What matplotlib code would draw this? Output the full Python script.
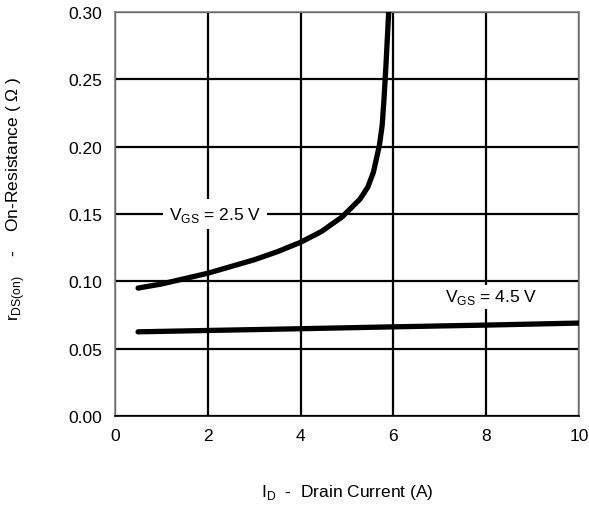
import matplotlib.pyplot as plt

plt.rcParams['font.family'] = ['Liberation Sans', 'DejaVu Sans']
plt.rcParams['mathtext.fontset'] = 'custom'
plt.rcParams['mathtext.rm'] = 'Liberation Sans'

# VGS = 2.5 V curve
id_25 = [0.5, 1.0, 1.5, 2.0, 2.5, 3.0, 3.5, 4.0, 4.45, 4.9, 5.28, 5.45, 5.57, 5.70, 5.76, 5.80, 5.84, 5.87, 5.90]
r_25 = [0.095, 0.098, 0.102, 0.106, 0.111, 0.116, 0.122, 0.129, 0.137, 0.148, 0.161, 0.170, 0.181, 0.201, 0.216, 0.236, 0.260, 0.280, 0.300]

# VGS = 4.5 V curve
id_45 = [0.5, 2.0, 4.0, 6.0, 8.0, 10.0]
r_45 = [0.0625, 0.0635, 0.0648, 0.0662, 0.0675, 0.069]

xticks = [0, 2, 4, 6, 8, 10]
yticks = [0.00, 0.05, 0.10, 0.15, 0.20, 0.25, 0.30]

fs = 12.5

fig = plt.figure(figsize=(5.89, 5.06), dpi=100)
ax = fig.add_axes([0.195, 0.176, 0.788, 0.798])

ax.set_xlim(0, 10)
ax.set_ylim(0, 0.30)
ax.set_xticks(xticks)
ax.set_yticks(yticks)
ax.set_xticklabels([str(t) for t in xticks])
ax.set_yticklabels(['%.2f' % t for t in yticks])
ax.tick_params(length=0, labelsize=fs, pad=9)

ax.grid(True, color='black', linewidth=1.6)
for s in ['left', 'top', 'right']:
    ax.spines[s].set_color('#808080')
    ax.spines[s].set_linewidth(1.2)
ax.spines['bottom'].set_color('black')
ax.spines['bottom'].set_linewidth(1.2)

ax.plot(id_25, r_25, color='black', linewidth=3.8, solid_capstyle='round', zorder=3)
ax.plot(id_45, r_45, color='black', linewidth=3.8, solid_capstyle='round', zorder=3)

ax.text(2.16, 0.15, r'V$_{\mathrm{GS}}$ = 2.5 V', fontsize=fs, ha='center', va='center',
        bbox=dict(facecolor='white', edgecolor='none', pad=4), zorder=4)
ax.text(8.1, 0.0885, r'V$_{\mathrm{GS}}$ = 4.5 V', fontsize=fs, ha='center', va='center',
        bbox=dict(facecolor='white', edgecolor='none', pad=2), zorder=4)

ax.set_xlabel(r'I$_{\mathrm{D}}$  -  Drain Current (A)', fontsize=fs, labelpad=28)
ax.set_ylabel(r'r$_{\mathrm{DS(on)}}$    -    On-Resistance ( $\Omega$ )', fontsize=fs)
ax.yaxis.set_label_coords(-0.19, 0.54)

fig.savefig('out.png', dpi=100)
